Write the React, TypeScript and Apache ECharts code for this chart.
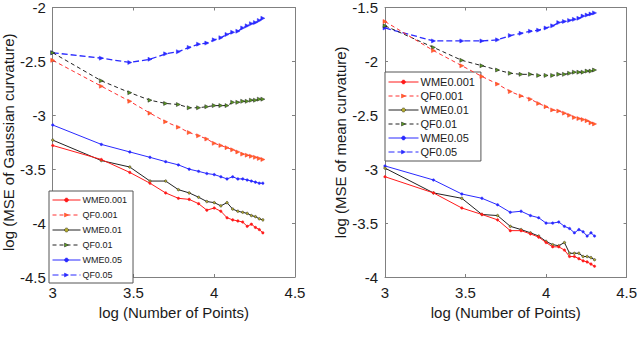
import React, { useEffect, useRef } from "react";
import * as echarts from "echarts";

const xs = [3, 3.301, 3.477, 3.602, 3.699, 3.778, 3.845, 3.903, 3.954, 4, 4.041, 4.079, 4.114, 4.146, 4.176, 4.204, 4.23, 4.255, 4.279, 4.301];

const seriesNames = ["WME0.001", "QF0.001", "WME0.01", "QF0.01", "WME0.05", "QF0.05"];

// Gaussian curvature (left)
const gWME001 = [-3.28, -3.41, -3.53, -3.63, -3.72, -3.77, -3.78, -3.82, -3.88, -3.86, -3.89, -3.95, -3.97, -3.98, -3.99, -4.03, -4.01, -4.04, -4.06, -4.09];
const gQF001 = [-2.49, -2.73, -2.87, -2.98, -3.06, -3.11, -3.16, -3.19, -3.22, -3.26, -3.28, -3.3, -3.32, -3.34, -3.36, -3.37, -3.38, -3.39, -3.4, -3.41];
const gWME01 = [-3.23, -3.42, -3.48, -3.61, -3.61, -3.69, -3.72, -3.76, -3.8, -3.81, -3.84, -3.81, -3.87, -3.89, -3.9, -3.91, -3.93, -3.94, -3.96, -3.97];
const gQF01 = [-2.42, -2.68, -2.79, -2.86, -2.89, -2.9, -2.93, -2.93, -2.92, -2.91, -2.91, -2.91, -2.88, -2.88, -2.87, -2.87, -2.86, -2.86, -2.85, -2.85];
const gWME05 = [-3.09, -3.27, -3.34, -3.39, -3.43, -3.46, -3.5, -3.52, -3.54, -3.55, -3.57, -3.59, -3.57, -3.59, -3.59, -3.6, -3.61, -3.62, -3.63, -3.63];
const gQF05 = [-2.42, -2.47, -2.51, -2.48, -2.43, -2.41, -2.37, -2.34, -2.33, -2.3, -2.28, -2.25, -2.23, -2.22, -2.19, -2.17, -2.15, -2.14, -2.12, -2.1];

// Mean curvature (right)
const mWME001 = [-3.07, -3.22, -3.36, -3.42, -3.47, -3.57, -3.57, -3.6, -3.63, -3.68, -3.72, -3.72, -3.75, -3.81, -3.81, -3.83, -3.85, -3.86, -3.88, -3.9];
const mQF001 = [-1.63, -1.9, -2.04, -2.14, -2.21, -2.28, -2.32, -2.35, -2.39, -2.42, -2.45, -2.46, -2.48, -2.5, -2.52, -2.53, -2.54, -2.55, -2.57, -2.58];
const mWME01 = [-2.99, -3.22, -3.27, -3.42, -3.43, -3.53, -3.56, -3.59, -3.62, -3.67, -3.7, -3.71, -3.68, -3.78, -3.78, -3.78, -3.81, -3.81, -3.82, -3.84];
const mQF01 = [-1.67, -1.87, -1.99, -2.04, -2.08, -2.11, -2.12, -2.12, -2.13, -2.13, -2.13, -2.12, -2.12, -2.11, -2.1, -2.1, -2.1, -2.09, -2.09, -2.08];
const mWME05 = [-2.97, -3.1, -3.23, -3.27, -3.33, -3.4, -3.39, -3.43, -3.45, -3.5, -3.5, -3.49, -3.53, -3.55, -3.59, -3.56, -3.58, -3.62, -3.59, -3.62];
const mQF05 = [-1.69, -1.81, -1.81, -1.81, -1.8, -1.76, -1.74, -1.72, -1.71, -1.69, -1.67, -1.64, -1.63, -1.62, -1.61, -1.6, -1.58, -1.57, -1.56, -1.55];

const xTicks = { min: 3, max: 4.5, interval: 0.5 };
const leftY = { min: -4.5, max: -2, interval: 0.5 };
const rightY = { min: -4, max: -1.5, interval: 0.5 };

const styles = [
  { color: "#ff1a1a", dash: "solid", width: 1, symbol: "circle", size: 2.5, fill: "#ff1a1a" },
  { color: "#ff3030", dash: [4, 3], width: 1, symbol: "triangle", size: 4, fill: "#ff6a20" },
  { color: "#222222", dash: "solid", width: 1, symbol: "circle", size: 2.5, fill: "#b8b030" },
  { color: "#222222", dash: [4, 3], width: 1, symbol: "triangle", size: 4, fill: "#5a9a20" },
  { color: "#2a2aff", dash: "solid", width: 1, symbol: "circle", size: 2.5, fill: "#2a2aff" },
  { color: "#2a2aff", dash: [6, 3], width: 1.3, symbol: "triangle", size: 4, fill: "#2a2aff" },
];

const FONT = "Liberation Sans, Arial, Helvetica, sans-serif";

function makeSeries(values: number[][], axisIndex: number) {
  return values.map((vals, i) => {
    const s = styles[i];
    return {
      name: seriesNames[i],
      type: "line",
      xAxisIndex: axisIndex * 2,
      yAxisIndex: axisIndex * 2,
      data: xs.map((x, j) => [x, vals[j]]),
      symbol: s.symbol,
      symbolSize: s.size,
      symbolRotate: s.symbol === "triangle" ? -90 : 0,
      showSymbol: true,
      lineStyle: { color: s.color, width: s.width, type: s.dash },
      itemStyle: { color: s.fill, borderColor: s.color, borderWidth: 0.5 },
      z: 10 - i,
    };
  });
}

function axisCommon() {
  return {
    axisLine: { show: true, lineStyle: { color: "#808080", width: 1 } },
    axisTick: { show: true, inside: true, length: 3, lineStyle: { color: "#808080" } },
    splitLine: { show: false },
    axisLabel: { color: "#1a1a1a", fontSize: 15, fontFamily: FONT },
    nameTextStyle: { color: "#1a1a1a", fontSize: 15, fontFamily: FONT },
  };
}

function mirrorAxis(g: number, position: string, range: any) {
  return {
    type: "value",
    gridIndex: g,
    position,
    ...range,
    ...axisCommon(),
    axisLabel: { show: false },
  };
}

function legendCommon(left: number, top: number, fontSize: number, itemWidth: number, itemGap: number) {
  return {
    data: seriesNames,
    orient: "vertical",
    left,
    top,
    padding: [4, 6, 3, 3],
    itemWidth,
    itemHeight: 5,
    itemGap,
    backgroundColor: "#ffffff",
    borderColor: "#555555",
    borderWidth: 1,
    borderRadius: 0,
    lineStyle: { width: 1 },
    itemStyle: { borderWidth: 0.5 },
    textStyle: { fontSize, lineHeight: fontSize + 1, color: "#1a1a1a", fontFamily: FONT, padding: [0, 0, 0, -3] },
    selectedMode: false,
  };
}

export default function App() {
  const ref = useRef<HTMLDivElement>(null);
  useEffect(() => {
    document.body.style.margin = "0";
    if (!ref.current) return;
    const chart = echarts.init(ref.current, undefined, { renderer: "svg" });
    const option = {
      animation: false,
      backgroundColor: "#ffffff",
      grid: [
        { left: 49, top: 6, width: 246, height: 271, show: false },
        { left: 385, top: 6, width: 246, height: 271, show: false },
      ],
      xAxis: [
        {
          type: "value",
          gridIndex: 0,
          position: "bottom",
          ...xTicks,
          ...axisCommon(),
          axisLabel: { ...axisCommon().axisLabel, margin: 8, formatter: (v: number) => String(v) },
          name: "log (Number of Points)",
          nameLocation: "middle",
          nameGap: 28,
        },
        mirrorAxis(0, "top", xTicks),
        {
          type: "value",
          gridIndex: 1,
          position: "bottom",
          ...xTicks,
          ...axisCommon(),
          axisLabel: { ...axisCommon().axisLabel, margin: 8, formatter: (v: number) => String(v) },
          name: "log (Number of Points)",
          nameLocation: "middle",
          nameGap: 28,
        },
        mirrorAxis(1, "top", xTicks),
      ],
      yAxis: [
        {
          type: "value",
          gridIndex: 0,
          position: "left",
          ...leftY,
          ...axisCommon(),
          axisLabel: { ...axisCommon().axisLabel, margin: 7, formatter: (v: number) => String(v) },
          name: "log (MSE of Gaussian curvature)",
          nameLocation: "middle",
          nameGap: 34,
        },
        mirrorAxis(0, "right", leftY),
        {
          type: "value",
          gridIndex: 1,
          position: "left",
          ...rightY,
          ...axisCommon(),
          axisLabel: { ...axisCommon().axisLabel, margin: 7, formatter: (v: number) => String(v) },
          name: "log (MSE of mean curvature)",
          nameLocation: "middle",
          nameGap: 30,
        },
        mirrorAxis(1, "right", rightY),
      ],
      legend: [
        legendCommon(49, 191, 9, 28, 5),
        legendCommon(385, 72, 11, 30, 2),
      ],
      series: [
        ...makeSeries([gWME001, gQF001, gWME01, gQF01, gWME05, gQF05], 0),
        ...makeSeries([mWME001, mQF001, mWME01, mQF01, mWME05, mQF05], 1),
      ],
    };
    chart.setOption(option as any);
    return () => chart.dispose();
  }, []);
  return <div ref={ref} style={{ position: "absolute", left: 0, top: 0, width: 640, height: 346 }} />;
}
